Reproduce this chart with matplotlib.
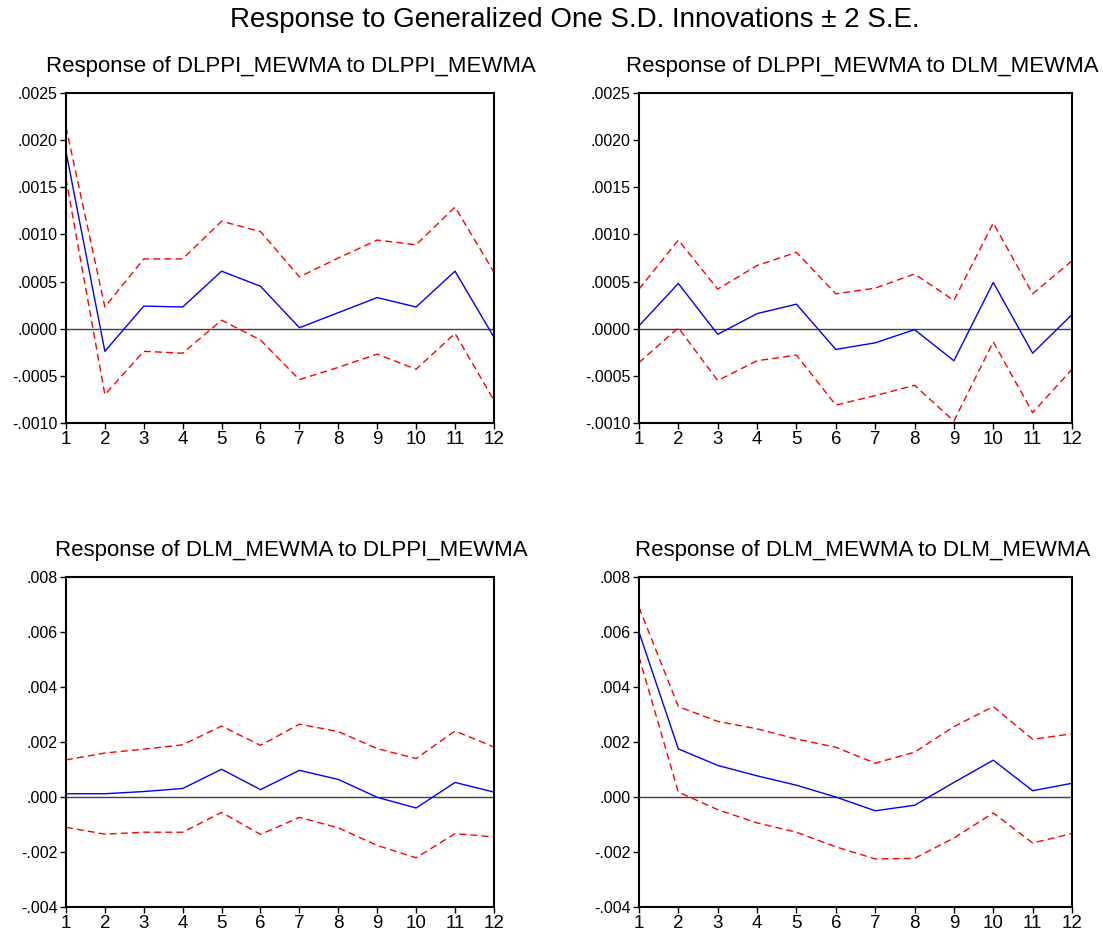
import matplotlib
matplotlib.use('Agg')
import matplotlib.pyplot as plt
from matplotlib.ticker import FuncFormatter, MultipleLocator

plt.rcParams['font.family'] = ['Liberation Sans', 'DejaVu Sans']

periods = list(range(1, 13))

# Response of DLPPI_MEWMA to DLPPI_MEWMA
ppi_ppi = [0.00188, -0.00024, 0.00024, 0.00023, 0.00061, 0.00045, 0.00001, 0.00017, 0.00033, 0.00023, 0.00061, -0.00009]
ppi_ppi_hi = [0.00214, 0.00023, 0.00074, 0.00074, 0.00114, 0.00103, 0.00055, 0.00075, 0.00094, 0.00089, 0.00129, 0.00060]
ppi_ppi_lo = [0.00159, -0.00070, -0.00024, -0.00026, 0.00009, -0.00012, -0.00054, -0.00041, -0.00027, -0.00043, -0.00005, -0.00076]

# Response of DLPPI_MEWMA to DLM_MEWMA
ppi_m = [0.00003, 0.00048, -0.00006, 0.00016, 0.00026, -0.00022, -0.00015, -0.00001, -0.00034, 0.00049, -0.00026, 0.00015]
ppi_m_hi = [0.00042, 0.00094, 0.00042, 0.00067, 0.00081, 0.00037, 0.00043, 0.00058, 0.00030, 0.00112, 0.00037, 0.00072]
ppi_m_lo = [-0.00036, 0.00001, -0.00055, -0.00034, -0.00028, -0.00081, -0.00071, -0.00060, -0.00098, -0.00014, -0.00089, -0.00043]

# Response of DLM_MEWMA to DLPPI_MEWMA
m_ppi = [0.00012, 0.00012, 0.00020, 0.00031, 0.00101, 0.00027, 0.00097, 0.00064, -0.00001, -0.00040, 0.00053, 0.00018]
m_ppi_hi = [0.00135, 0.00160, 0.00174, 0.00190, 0.00258, 0.00188, 0.00265, 0.00238, 0.00176, 0.00140, 0.00240, 0.00182]
m_ppi_lo = [-0.00110, -0.00135, -0.00128, -0.00128, -0.00056, -0.00136, -0.00074, -0.00112, -0.00176, -0.00221, -0.00133, -0.00145]

# Response of DLM_MEWMA to DLM_MEWMA
m_m = [0.00600, 0.00175, 0.00115, 0.00077, 0.00043, 0.00000, -0.00050, -0.00030, 0.00053, 0.00134, 0.00023, 0.00050]
m_m_hi = [0.00690, 0.00329, 0.00275, 0.00248, 0.00211, 0.00181, 0.00123, 0.00163, 0.00256, 0.00329, 0.00210, 0.00230]
m_m_lo = [0.00510, 0.00018, -0.00046, -0.00094, -0.00128, -0.00181, -0.00225, -0.00223, -0.00149, -0.00058, -0.00167, -0.00133]

titles = ['Response of DLPPI_MEWMA to DLPPI_MEWMA',
          'Response of DLPPI_MEWMA to DLM_MEWMA',
          'Response of DLM_MEWMA to DLPPI_MEWMA',
          'Response of DLM_MEWMA to DLM_MEWMA']
series = [(ppi_ppi, ppi_ppi_hi, ppi_ppi_lo), (ppi_m, ppi_m_hi, ppi_m_lo),
          (m_ppi, m_ppi_hi, m_ppi_lo), (m_m, m_m_hi, m_m_lo)]
ylims = [(-0.0010, 0.0025), (-0.0010, 0.0025), (-0.004, 0.008), (-0.004, 0.008)]
ysteps = [0.0005, 0.0005, 0.002, 0.002]
ydigits = [4, 4, 3, 3]


def eviews_fmt(decimals):
    # EViews style labels: no leading zero (.0025, -.0010)
    def f(v, pos):
        s = f'{v:.{decimals}f}'
        if s.startswith('-0'):
            s = '-' + s[2:]
        elif s.startswith('0'):
            s = s[1:]
        return s
    return f


fig = plt.figure(figsize=(11.03, 9.41), dpi=100)
positions = [[0.0598, 0.5505, 0.388, 0.3507], [0.5793, 0.5505, 0.3926, 0.3507],
             [0.0598, 0.0361, 0.388, 0.3507], [0.5793, 0.0361, 0.3926, 0.3507]]
title_x = [0.526, 0.516, 0.526, 0.516]

for i in range(4):
    ax = fig.add_axes(positions[i])
    mid, hi, lo = series[i]
    ax.axhline(0, color='#404040', linewidth=1.0)
    ax.plot(periods, hi, color='red', linestyle=(0, (5, 3)), linewidth=1.0)
    ax.plot(periods, lo, color='red', linestyle=(0, (5, 3)), linewidth=1.0)
    ax.plot(periods, mid, color='blue', linewidth=1.0)
    ax.set_xlim(1, 12)
    ax.set_ylim(*ylims[i])
    ax.set_xticks(periods)
    ax.yaxis.set_major_locator(MultipleLocator(ysteps[i]))
    ax.yaxis.set_major_formatter(FuncFormatter(eviews_fmt(ydigits[i])))
    ax.tick_params(direction='out', length=4, width=1, top=False, right=False, pad=2)
    ax.tick_params(axis='y', labelsize=11.5)
    ax.tick_params(axis='x', labelsize=13.5)
    for sp in ax.spines.values():
        sp.set_linewidth(1.5)
    ax.set_title(titles[i], fontsize=16, pad=15, x=title_x[i])

fig.suptitle('Response to Generalized One S.D. Innovations \u00b1 2 S.E.', fontsize=20, x=0.521, y=0.993)
plt.savefig('out.png', dpi=100)
plt.close()
